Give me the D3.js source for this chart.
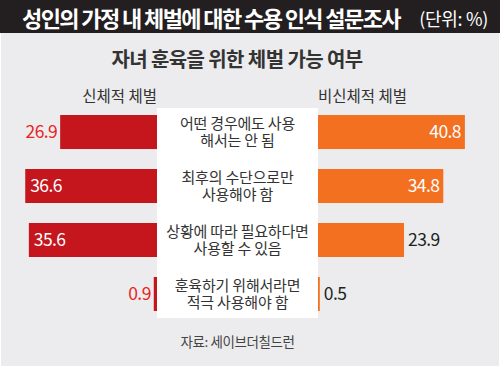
<!DOCTYPE html>
<html>
<head>
<meta charset="utf-8">
<script src="https://cdn.jsdelivr.net/npm/d3@7"></script>
<style>
  body { margin: 0; background: #fff; }
  svg { display: block; font-family: "Noto Sans CJK KR", "Noto Sans", sans-serif; }
</style>
</head>
<body>
<svg width="500" height="368"></svg>
<script>
// 데이터
const categories = [
  "어떤 경우에도 사용|해서는 안 됨",
  "최후의 수단으로만|사용해야 함",
  "상황에 따라 필요하다면|사용할 수 있음",
  "훈육하기 위해서라면|적극 사용해야 함"
];
const physical = [26.9, 36.6, 35.6, 0.9];
const nonPhysical = [40.8, 34.8, 23.9, 0.5];
const seriesNames = ["신체적 체벌", "비신체적 체벌"];

const title = "성인의 가정 내 체벌에 대한 수용 인식 설문조사";
const unit = "(단위: %)";
const subtitle = "자녀 훈육을 위한 체벌 가능 여부";
const source = "자료: 세이브더칠드런";

const svg = d3.select("svg");
const W = 500, H = 368;

// 배경
svg.append("rect").attr("x", 1).attr("y", 33).attr("width", W - 2).attr("height", H - 35).attr("fill", "#ececee");
svg.append("rect").attr("x", 0).attr("y", 0).attr("width", W).attr("height", 33).attr("fill", "#231f20");

svg.append("text").attr("x", 22).attr("y", 27)
  .attr("font-size", 22).attr("font-weight", 700).attr("fill", "#fff")
  .attr("letter-spacing", -1.6)
  .text(title);
svg.append("text").attr("x", 488).attr("y", 26).attr("text-anchor", "end")
  .attr("font-size", 18).attr("fill", "#fff").attr("letter-spacing", -0.3)
  .text(unit);

svg.append("text").attr("x", 237).attr("y", 67).attr("text-anchor", "middle")
  .attr("font-size", 20).attr("font-weight", 700).attr("fill", "#333")
  .attr("letter-spacing", -0.6)
  .text(subtitle);

const midL = 157, midR = 318;
const boxTop = 108, boxBottom = 318;

// 가운데 흰 박스
svg.append("rect").attr("x", midL).attr("y", boxTop).attr("width", midR - midL).attr("height", boxBottom - boxTop).attr("fill", "#fff");

const y = d3.scaleBand().domain(d3.range(categories.length))
  .range([boxTop, boxBottom]).paddingInner(0.37).paddingOuter(0.13);
const len = d3.scaleLinear().domain([0, 45]).range([0, 162]);

svg.append("text").attr("x", midL).attr("y", 102).attr("text-anchor", "end")
  .attr("font-size", 15.5).attr("fill", "#333").text(seriesNames[0]);
svg.append("text").attr("x", midR).attr("y", 102).attr("text-anchor", "start")
  .attr("font-size", 15.5).attr("fill", "#333").text(seriesNames[1]);

// 왼쪽 막대
svg.selectAll(".barL").data(physical).enter().append("rect")
  .attr("class", "barL")
  .attr("x", d => midL - len(d))
  .attr("y", (d, i) => y(i))
  .attr("width", d => len(d))
  .attr("height", y.bandwidth())
  .attr("fill", "#c4161c");

// 오른쪽 막대
svg.selectAll(".barR").data(nonPhysical).enter().append("rect")
  .attr("class", "barR")
  .attr("x", midR)
  .attr("y", (d, i) => y(i))
  .attr("width", d => len(d))
  .attr("height", y.bandwidth())
  .attr("fill", "#f37021");

const inside = d => d > 30;

svg.selectAll(".valL").data(physical).enter().append("text")
  .attr("class", "valL")
  .attr("x", d => inside(d) ? midL - len(d) + 5 : midL - len(d) - 3)
  .attr("y", (d, i) => y(i) + y.bandwidth() / 2 + 6)
  .attr("text-anchor", d => inside(d) ? "start" : "end")
  .attr("font-size", 17.5).attr("letter-spacing", -0.6)
  .attr("fill", d => inside(d) ? "#fff" : "#e8251f")
  .text(d => d.toFixed(1));

svg.selectAll(".valR").data(nonPhysical).enter().append("text")
  .attr("class", "valR")
  .attr("x", d => inside(d) ? midR + len(d) - 4 : midR + len(d) + 4)
  .attr("y", (d, i) => y(i) + y.bandwidth() / 2 + 6)
  .attr("text-anchor", d => inside(d) ? "end" : "start")
  .attr("font-size", 17.5).attr("letter-spacing", -0.6)
  .attr("fill", d => inside(d) ? "#fff" : "#231f20")
  .text(d => d.toFixed(1));

// 항목 이름 (두 줄)
const cx = (midL + midR) / 2;
categories.forEach((c, i) => {
  const lines = c.split("|");
  const t = svg.append("text").attr("text-anchor", "middle")
    .attr("font-size", 15).attr("fill", "#333").attr("letter-spacing", -0.2);
  lines.forEach((ln, j) => {
    t.append("tspan").attr("x", cx)
      .attr("y", y(i) + y.bandwidth() / 2 - 3 + j * 17)
      .text(ln);
  });
});

svg.append("text").attr("x", cx).attr("y", 347).attr("text-anchor", "middle")
  .attr("font-size", 13.5).attr("fill", "#444").attr("letter-spacing", -0.4)
  .text(source);
</script>
</body>
</html>
